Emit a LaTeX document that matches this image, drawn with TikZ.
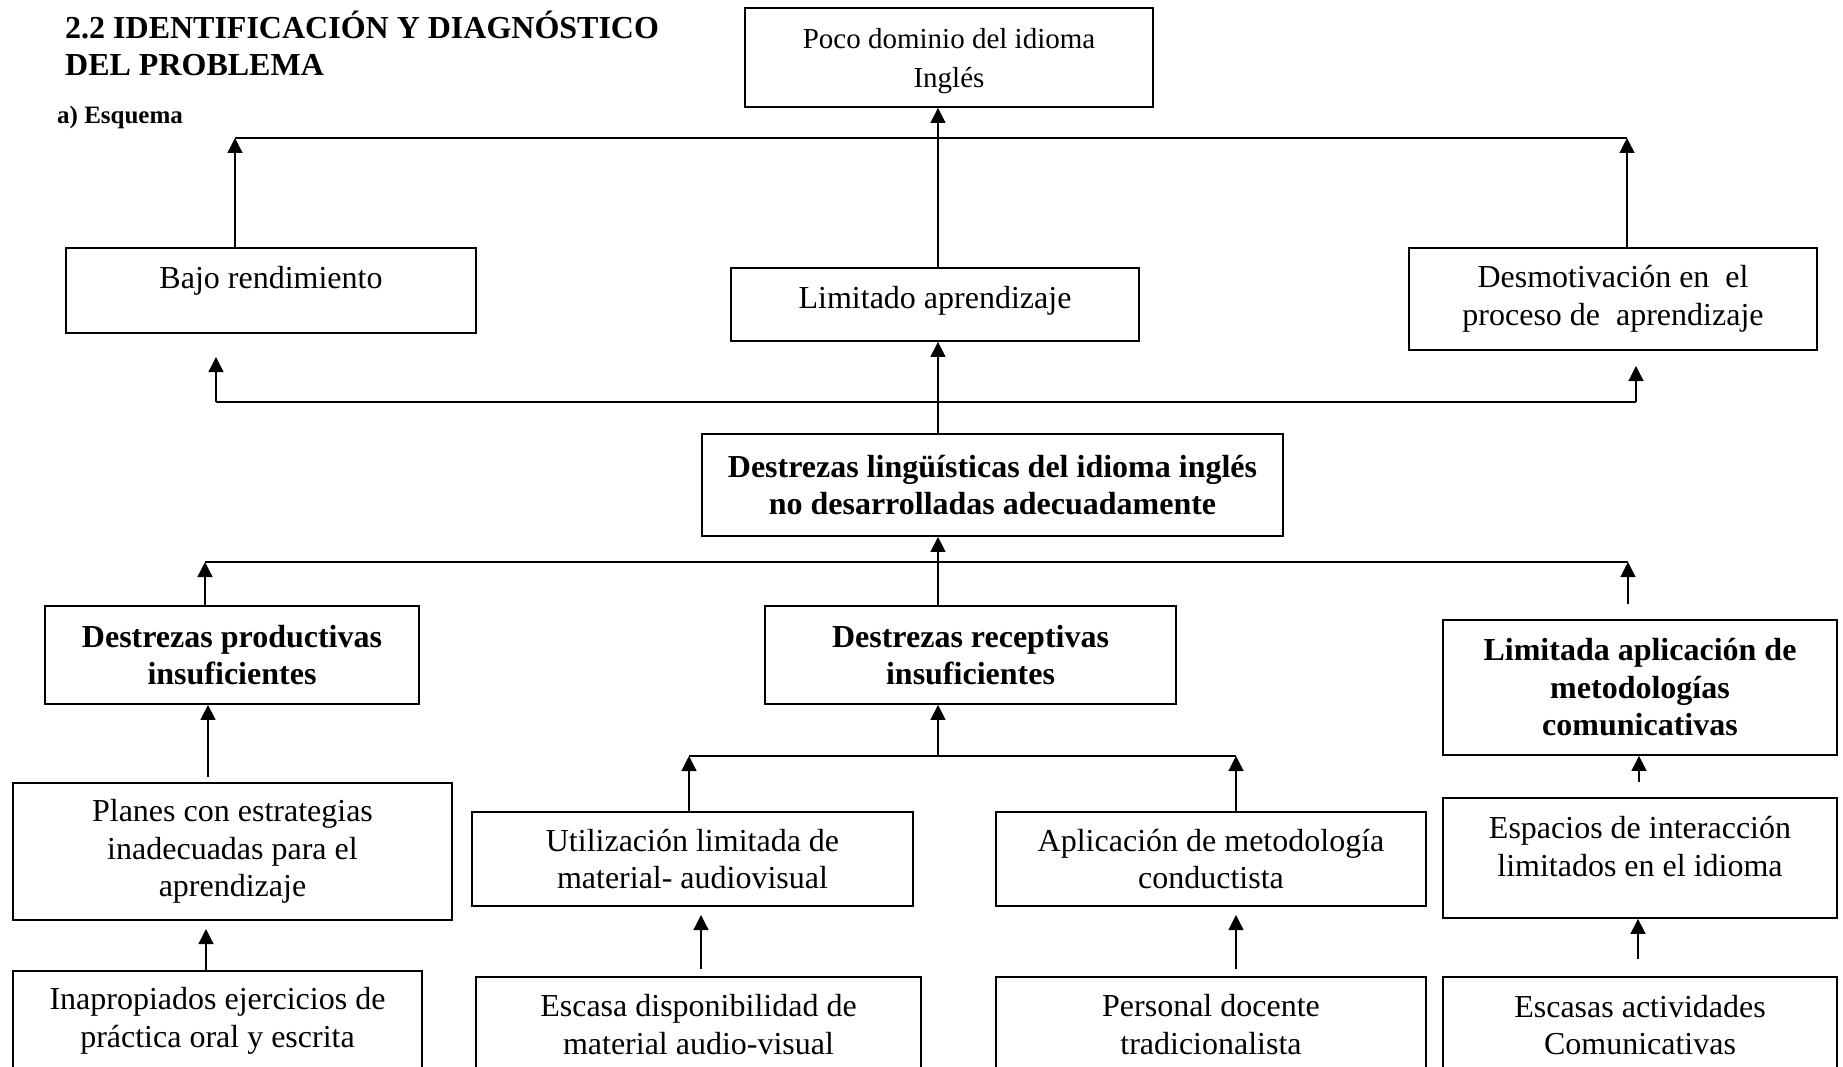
\documentclass[tikz,border=0pt]{standalone}
\usepackage{fontspec}
\setmainfont{Liberation Serif}
\usetikzlibrary{arrows.meta}
\tikzset{
  boxst/.style={draw, line width=1.8pt, inner sep=0pt, align=center,
    font=\fontsize{32}{37.5}\selectfont},
  bboxst/.style={boxst, font=\fontsize{32}{37.5}\selectfont\bfseries},
  txt/.style={inner sep=0pt, align=center, font=\fontsize{32}{37.5}\selectfont},
  arr/.style={line width=1.3pt, -{Triangle[length=15pt,width=15pt]}},
  hline/.style={line width=1.8pt}
}
\begin{document}
\begin{tikzpicture}[x=1pt,y=-1pt]
\useasboundingbox (0,0) rectangle (1843,1067);
\clip (0,0) rectangle (1843,1067);

% titles
\node[anchor=base west, inner sep=0pt, font=\fontsize{32}{37}\selectfont\bfseries] (title1) at (65,39) {2.2 IDENTIFICACIÓN Y DIAGNÓSTICO};
\node[anchor=base west, inner sep=0pt, font=\fontsize{32}{37}\selectfont\bfseries] (title2) at (65,76) {DEL PROBLEMA};
\node[anchor=base west, inner sep=0pt, font=\fontsize{25}{30}\selectfont\bfseries] (esquema) at (57,124) {a) Esquema};

% level 0
\node[boxst, minimum width=408pt, minimum height=99pt] (top) at (949,57.5) {};
\node[txt, font=\fontsize{29}{39}\selectfont] (topt) at (949,61) {Poco dominio del idioma\\Inglés};

% level 1
\node[boxst, minimum width=410pt, minimum height=85pt] (bajo) at (271,290.5) {};
\node[txt] (bajot) at (271,281) {Bajo rendimiento};
\node[boxst, minimum width=408pt, minimum height=73pt] (limitado) at (935,304.5) {};
\node[txt] (limitadot) at (935,301) {Limitado aprendizaje};
\node[boxst, minimum width=408pt, minimum height=102pt] (desmot) at (1613,299) {Desmotivación en\ \ el\\proceso de\ \ aprendizaje};

% level 2
\node[bboxst, minimum width=581pt, minimum height=102pt] (dling) at (992.5,485) {Destrezas lingüísticas del idioma inglés\\no desarrolladas adecuadamente};

% level 3
\node[bboxst, minimum width=374pt, minimum height=98pt] (dprod) at (232,655) {Destrezas productivas\\insuficientes};
\node[bboxst, minimum width=411pt, minimum height=98pt] (drec) at (970.5,655) {Destrezas receptivas\\insuficientes};
\node[bboxst, minimum width=394pt, minimum height=135pt] (limap) at (1640,687.5) {Limitada aplicación de\\metodologías\\comunicativas};

% level 4
\node[boxst, minimum width=439pt, minimum height=137pt] (planes) at (232.5,851.5) {Planes con estrategias\\inadecuadas para el\\aprendizaje};
\node[boxst, minimum width=441pt, minimum height=94pt] (util) at (692.5,859) {Utilización limitada de\\material- audiovisual};
\node[boxst, minimum width=430pt, minimum height=94pt] (aplic) at (1211,859) {Aplicación de metodología\\conductista};
\node[boxst, minimum width=394pt, minimum height=120pt] (espac) at (1640,858) {};
\node[txt] (espact) at (1640,846.5) {Espacios de interacción\\limitados en el idioma};

% level 5
\node[boxst, minimum width=409pt, minimum height=109pt] (inap) at (217.5,1025.5) {};
\node[txt] (inapt) at (217.5,1021) {Inapropiados ejercicios de\\práctica oral y escrita};
\node[boxst, minimum width=445pt, minimum height=103pt] (escasa) at (698.5,1028.5) {};
\node[txt] (escasat) at (698.5,1024.5) {Escasa disponibilidad de\\material audio-visual};
\node[boxst, minimum width=430pt, minimum height=103pt] (personal) at (1211,1028.5) {};
\node[txt] (personalt) at (1211,1024.5) {Personal docente\\tradicionalista};
\node[boxst, minimum width=394pt, minimum height=103pt] (escasas) at (1640,1028.5) {};
\node[txt] (escasast) at (1640,1025) {Escasas actividades\\Comunicativas};

% coordinates
\coordinate (j1l) at (235,138);
\coordinate (j1r) at (1627,138);
\coordinate (c1) at (938,138);
\coordinate (j2l) at (216,402);
\coordinate (t2l) at (216,357);
\coordinate (j2r) at (1636,402);
\coordinate (t2r) at (1636,366);
\coordinate (j3l) at (205,562);
\coordinate (j3r) at (1628,562);
\coordinate (s3r) at (1628,604);
\coordinate (s4l) at (208,777);
\coordinate (j4l) at (689,756);
\coordinate (j4r) at (1236,756);
\coordinate (s4r) at (1639,782);
\coordinate (t5a) at (206,929);
\coordinate (t5b) at (701,915);
\coordinate (s5b) at (701,969);
\coordinate (t5c) at (1236,915);
\coordinate (s5c) at (1236,969);
\coordinate (s5d) at (1638,959);

% level 1 -> top
\draw[arr] (bajo.north -| j1l) -- (j1l);
\draw[arr] (desmot.north -| j1r) -- (j1r);
\draw[hline] (j1l) -- (j1r);
\draw[arr] (limitado.north -| c1) -- (top.south -| c1);

% level 2 -> level 1
\draw[arr] (j2l) -- (t2l);
\draw[arr] (j2r) -- (t2r);
\draw[hline] (j2l) -- (j2r);
\draw[arr] (dling.north -| c1) -- (limitado.south -| c1);

% level 3 -> level 2
\draw[arr] (dprod.north -| j3l) -- (j3l);
\draw[arr] (s3r) -- (j3r);
\draw[hline] (j3l) -- (j3r);
\draw[arr] (drec.north -| c1) -- (dling.south -| c1);

% level 4 -> level 3
\draw[arr] (s4l) -- (dprod.south -| s4l);
\draw[arr] (util.north -| j4l) -- (j4l);
\draw[arr] (aplic.north -| j4r) -- (j4r);
\draw[hline] (j4l) -- (j4r);
\draw[arr] (j4l -| c1) -- (drec.south -| c1);
\draw[arr] (s4r) -- (limap.south -| s4r);

% level 5 -> level 4
\draw[arr] (inap.north -| t5a) -- (t5a);
\draw[arr] (s5b) -- (t5b);
\draw[arr] (s5c) -- (t5c);
\draw[arr] (s5d) -- (espac.south -| s5d);
\end{tikzpicture}
\end{document}
